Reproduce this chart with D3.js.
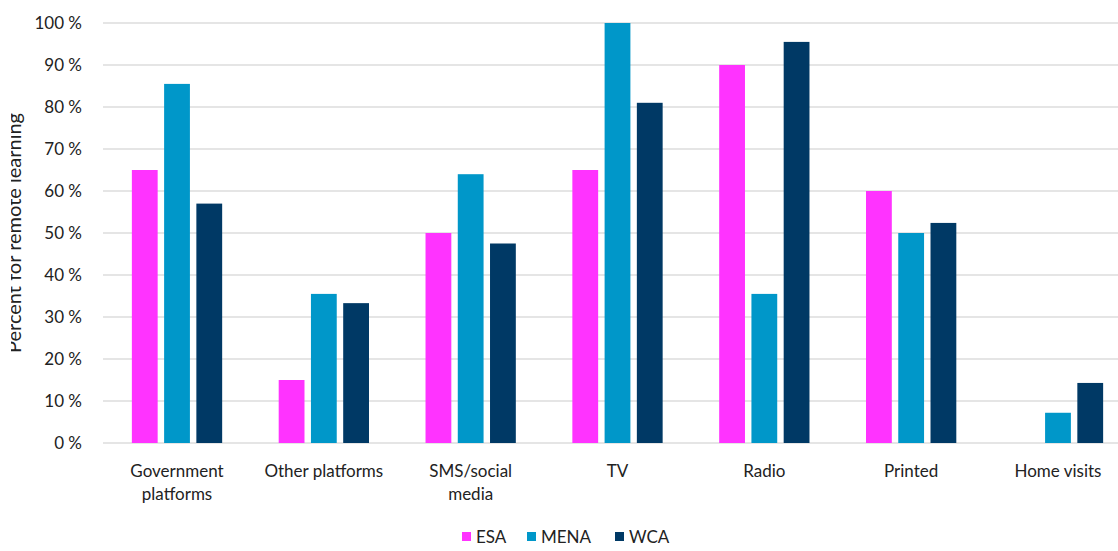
<!DOCTYPE html>
<html>
<head>
<meta charset="utf-8">
<script src="https://cdn.jsdelivr.net/npm/d3@7"></script>
<style>
  body { margin: 0; background: #fff; }
  text { font-family: Lato, "Open Sans", sans-serif; fill: #222; }
</style>
</head>
<body>
<svg width="1118" height="551"></svg>
<script>
const categories = [["Government", "platforms"], ["Other platforms"], ["SMS/social", "media"], ["TV"], ["Radio"], ["Printed"], ["Home visits"]];
const seriesNames = ["ESA", "MENA", "WCA"];
const esa = [65, 15, 50, 65, 90, 60, 0];
const mena = [85.5, 35.5, 64, 100, 35.5, 50, 7.2];
const wca = [57, 33.3, 47.5, 81, 95.5, 52.4, 14.3];
const yTicks = [0, 10, 20, 30, 40, 50, 60, 70, 80, 90, 100];
const colors = ["#ff33ff", "#0097c9", "#003965"];

const svg = d3.select("svg");
const values = [esa, mena, wca];

const y = d3.scaleLinear().domain([0, 100]).range([443, 23]);
const x0 = d3.scaleBand().domain(d3.range(categories.length)).range([103.6, 1131.4]).paddingInner(0.385).paddingOuter(0.1925);
const x1 = d3.scaleBand().domain(d3.range(seriesNames.length)).range([0, x0.bandwidth()]).paddingInner(0.2);

// gridlines
svg.append("g").selectAll("line")
    .data(yTicks)
    .enter().append("line")
    .attr("x1", 103).attr("x2", 1118)
    .attr("y1", d => y(d)).attr("y2", d => y(d))
    .attr("stroke", "#dcdcdc")
    .attr("stroke-width", 1.5);

// y tick labels
svg.append("g").selectAll("text")
    .data(yTicks)
    .enter().append("text")
    .attr("x", 82)
    .attr("y", d => y(d) + 6)
    .attr("text-anchor", "end")
    .style("font-size", "17px")
    .text(d => d + " %");

// y axis title, cut off at the left like in the source
svg.append("clipPath").attr("id", "yclip")
    .append("rect").attr("x", 11).attr("y", 0).attr("width", 40).attr("height", 551);
svg.append("g")
    .attr("clip-path", "url(#yclip)")
  .append("text")
    .attr("transform", "translate(20.5,233) rotate(-90)")
    .attr("text-anchor", "middle")
    .style("font-size", "20px")
    .text("Percent for remote learning");

// bars
const groups = svg.append("g").selectAll("g")
    .data(categories)
    .enter().append("g")
    .attr("transform", (d, i) => "translate(" + x0(i) + ",0)");

groups.selectAll("rect")
    .data((d, i) => values.map((s, k) => ({ k: k, v: s[i] })))
    .enter().append("rect")
    .attr("x", d => x1(d.k))
    .attr("width", x1.bandwidth())
    .attr("y", d => y(d.v))
    .attr("height", d => y(0) - y(d.v))
    .attr("fill", d => colors[d.k]);

// category labels
const labels = svg.append("g").selectAll("text")
    .data(categories)
    .enter().append("text")
    .attr("text-anchor", "middle")
    .style("font-size", "17px")
    .attr("x", (d, i) => x0(i) + x0.bandwidth() / 2)
    .attr("y", 477);

labels.selectAll("tspan")
    .data(d => d)
    .enter().append("tspan")
    .attr("x", function() { return d3.select(this.parentNode).attr("x"); })
    .attr("dy", (d, i) => i === 0 ? 0 : 23)
    .text(d => d);

// legend
const legendX = [462, 527, 615];
const legend = svg.append("g").selectAll("g")
    .data(seriesNames)
    .enter().append("g")
    .attr("transform", (d, i) => "translate(" + legendX[i] + ",537)");

legend.append("rect")
    .attr("x", 0).attr("y", -5)
    .attr("width", 9).attr("height", 9)
    .attr("fill", (d, i) => colors[i]);

legend.append("text")
    .attr("x", 14)
    .attr("y", 6)
    .style("font-size", "17px")
    .text(d => d);
</script>
</body>
</html>
